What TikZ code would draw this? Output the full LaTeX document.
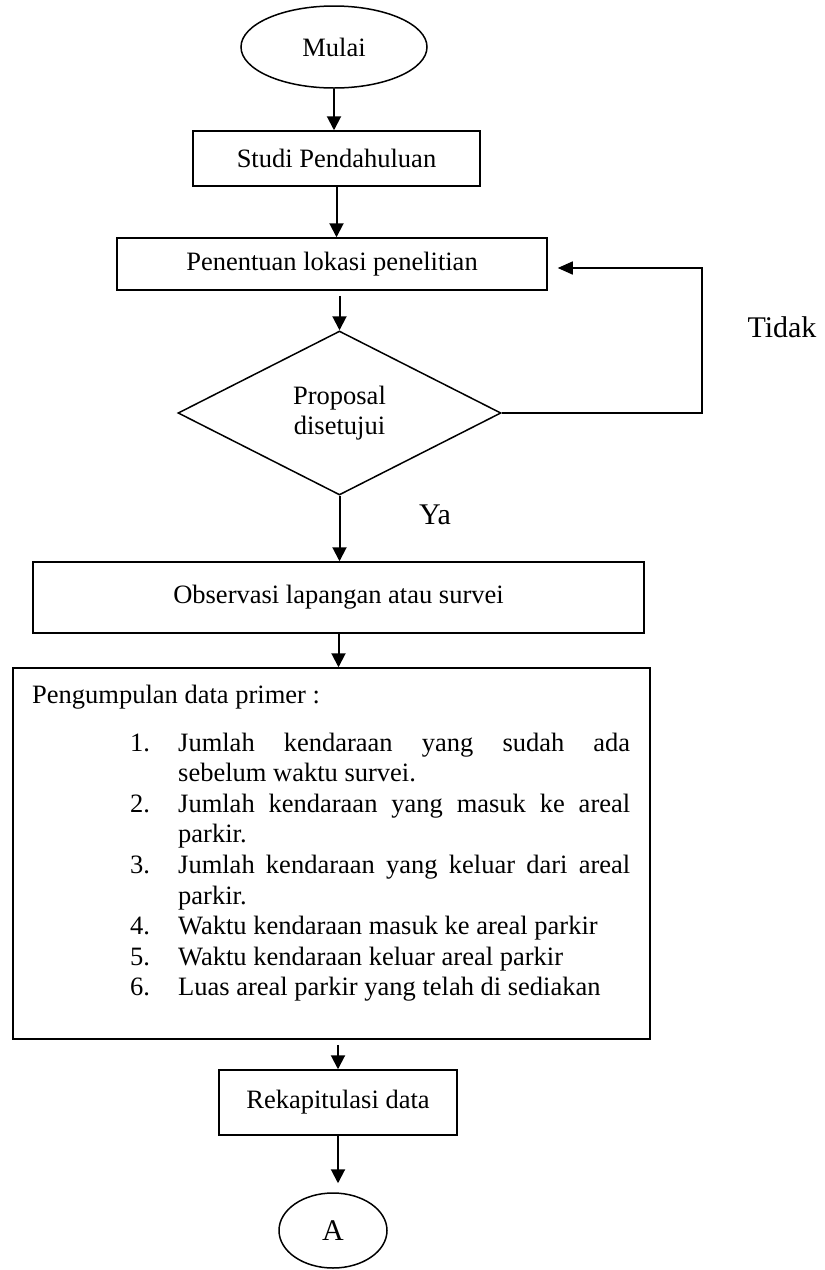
\documentclass[tikz,border=0pt]{standalone}
\usepackage{fontspec}
\setmainfont{Liberation Serif}
\usetikzlibrary{shapes.geometric,arrows.meta}
\newcommand{\mainsz}{\fontsize{26.5}{30.6}\selectfont}
\newcommand{\bigsz}{\fontsize{30}{34}\selectfont}
\tikzset{
  box/.style={draw, rectangle, line width=1.5pt, inner sep=0pt, align=center, font=\mainsz},
  term/.style={draw, ellipse, line width=1.5pt, inner sep=0pt, font=\mainsz},
  decision/.style={draw, diamond, line width=1.5pt, inner sep=0pt, align=center, font=\mainsz},
  flow/.style={line width=2pt, -{Triangle[length=14pt,width=14pt]}},
  backflow/.style={line width=1.5pt, -{Triangle[length=15pt,width=13pt]}},
  lbl/.style={inner sep=0pt, font=\bigsz},
  ltxt/.style={anchor=base west, inner sep=0pt, font=\mainsz},
}
\begin{document}
\begin{tikzpicture}[x=1pt,y=-1pt]
\useasboundingbox (0,0) rectangle (825,1270);

\node[term, minimum width=186pt, minimum height=82pt] (start) at (334,47) {Mulai};
\node[box, minimum width=287pt, minimum height=55pt] (studi) at (336.5,158.5) {Studi Pendahuluan};
\node[box, minimum width=430pt, minimum height=52pt] (pen) at (332,264) {Penentuan lokasi penelitian};
\node[decision, minimum width=323pt, minimum height=164pt] (dec) at (339.5,413) {Proposal\\disetujui};
\node[box, minimum width=611pt, minimum height=71pt] (obs) at (338.5,597.5) {Observasi lapangan atau survei};
\node[box, minimum width=637pt, minimum height=371pt] (peng) at (331.5,853.5) {};
\node[box, minimum width=238pt, minimum height=65pt] (rekap) at (338,1102.5) {Rekapitulasi data};
\node[term, minimum width=108pt, minimum height=75pt, font=\bigsz] (A) at (333,1230.5) {A};

\node[lbl] (tidak) at (782,327) {Tidak};
\node[lbl] (ya) at (435,515) {Ya};

% text inside data collection box
\node[ltxt] (head) at (32,703) {Pengumpulan data primer :};
\node[ltxt] (n1) at (130,751) {1.};
\node[ltxt] (t1a) at (178,751) {\makebox[452pt][s]{Jumlah kendaraan yang sudah ada}};
\node[ltxt] (t1b) at (178,781.6) {sebelum waktu survei.};
\node[ltxt] (n2) at (130,812.2) {2.};
\node[ltxt] (t2a) at (178,812.2) {\makebox[452pt][s]{Jumlah kendaraan yang masuk ke areal}};
\node[ltxt] (t2b) at (178,842.8) {parkir.};
\node[ltxt] (n3) at (130,873.4) {3.};
\node[ltxt] (t3a) at (178,873.4) {\makebox[452pt][s]{Jumlah kendaraan yang keluar dari areal}};
\node[ltxt] (t3b) at (178,904) {parkir.};
\node[ltxt] (n4) at (130,934.6) {4.};
\node[ltxt] (t4) at (178,934.6) {Waktu kendaraan masuk ke areal parkir};
\node[ltxt] (n5) at (130,965.2) {5.};
\node[ltxt] (t5) at (178,965.2) {Waktu kendaraan keluar areal parkir};
\node[ltxt] (n6) at (130,995.8) {6.};
\node[ltxt] (t6) at (178,995.8) {Luas areal parkir yang telah di sediakan};

% connectors
\draw[flow] (start.south) -- (start.south |- studi.north);
\draw[flow] (studi.south) -- (studi.south |- pen.north);
\draw[flow, shorten <=5pt] (dec.north |- pen.south) -- (dec.north);
\draw[backflow] (dec.east) -- ++(200,0) |- ([xshift=10pt,yshift=-4pt]pen.east);
\draw[flow] (dec.south) -- (dec.south |- obs.north);
\draw[flow] (obs.south) -- (obs.south |- peng.north);
\draw[flow, shorten <=5pt] (rekap.north |- peng.south) -- (rekap.north);
\draw[flow, shorten >=9pt] (rekap.south) -- (rekap.south |- A.north);
\end{tikzpicture}
\end{document}
